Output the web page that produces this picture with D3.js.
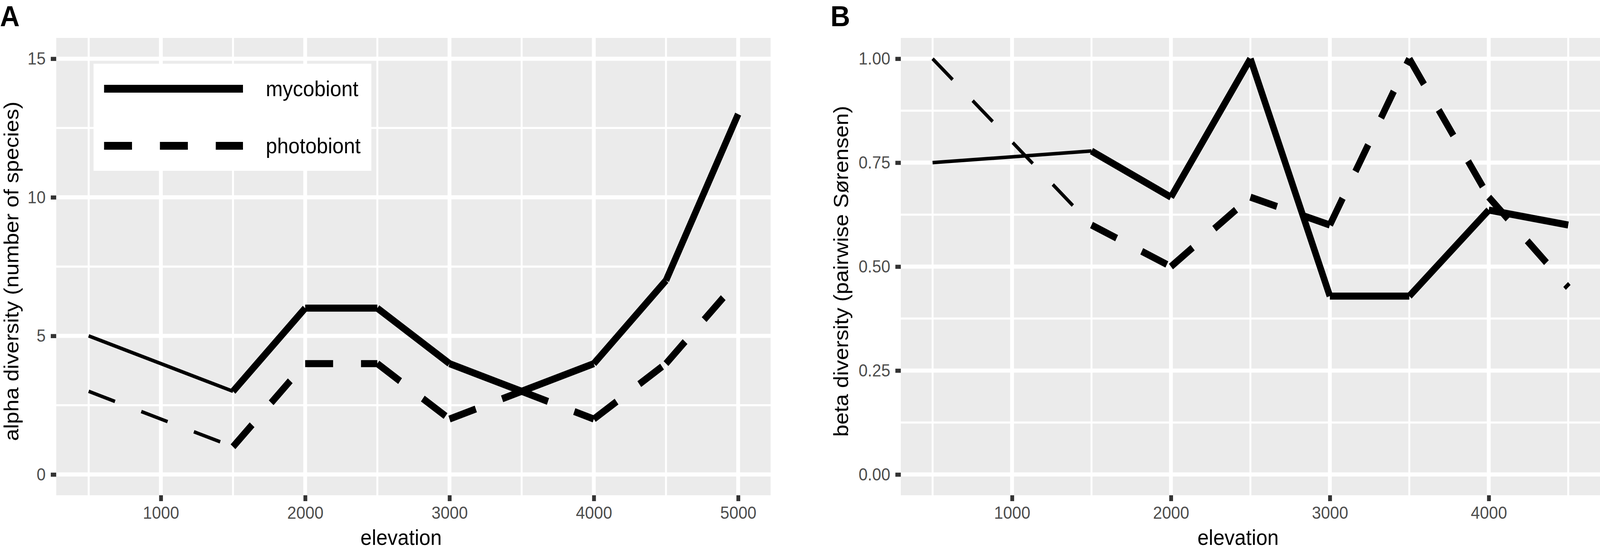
<!DOCTYPE html>
<html lang="en">
<head>
  <meta charset="UTF-8" />
  <title>Alpha and beta diversity along elevation</title>
  <style>
    html, body { margin: 0; padding: 0; background: #fff; overflow: hidden; }
    svg { display: block; width: 100vw; height: 100vh; font-family: 'Liberation Sans', Arial, Helvetica, sans-serif; }
    .axis text { fill: #4d4d4d; font-size: 45px; }
    .axis line { stroke: #333; stroke-width: 10.5; }
    .axis path { display: none; }
    .axis-title { font-size: 56px; fill: #000; }
    .panel-tag { font-size: 75px; font-weight: bold; fill: #000; }
    .legend-text { font-size: 56px; fill: #000; }
  </style>
</head>
<body>
  <svg id="chart" viewBox="0 0 4412 1407" preserveAspectRatio="none"></svg>

  <script src="https://d3js.org/d3.v7.min.js"></script>
  <script>
    // ---- data ----
    const elevationA = [500, 1500, 2000, 2500, 3000, 3500, 4000, 4500, 5000];
    const alphaMycobiont = [5, 3, 6, 6, 4, 3, 4, 7, 13];
    const alphaPhotobiont = [3, 1, 4, 4, 2, 3, 2, 4, 7];

    const elevationB = [500, 1500, 2000, 2500, 3000, 3500, 4000, 4500];
    const betaMycobiont = [0.75, 0.778, 0.667, 1.0, 0.429, 0.429, 0.636, 0.60];
    const betaPhotobiont = [1.0, 0.60, 0.50, 0.667, 0.60, 1.0, 0.667, 0.45];

    const seriesNames = ["mycobiont", "photobiont"];

    const xTicksA = [1000, 2000, 3000, 4000, 5000];
    const yTicksA = [0, 5, 10, 15];
    const xTicksB = [1000, 2000, 3000, 4000];
    const yTicksB = [0, 0.25, 0.5, 0.75, 1.0];

    // ---- layout ----
    const svg = d3.select("#chart");
    const panelTop = 97, panelBottom = 1267;
    const dash = "77 77";
    const segWidth = i => (i === 0 ? 9 : 18);   // first segment drawn thin, as in the figure

    // midpoints between major breaks, like ggplot minor grid
    function minorBreaks(major, domain) {
      const step = major[1] - major[0];
      const out = [];
      for (let v = major[0] - step / 2; v <= domain[1]; v += step) {
        if (v >= domain[0]) out.push(v);
      }
      return out;
    }

    function drawPanel(cfg) {
      const x = d3.scaleLinear().domain(cfg.xDomain).range([cfg.left, cfg.right]);
      const y = d3.scaleLinear().domain(cfg.yDomain).range([panelBottom, panelTop]);
      const g = svg.append("g");

      // panel background
      g.append("rect")
        .attr("x", cfg.left).attr("y", panelTop)
        .attr("width", cfg.right - cfg.left).attr("height", panelBottom - panelTop)
        .attr("fill", "#ebebeb");

      // grid: minor then major
      const grid = g.append("g").attr("stroke", "#fff");
      grid.selectAll(".minor-x").data(minorBreaks(cfg.xTicks, cfg.xDomain)).join("line")
        .attr("x1", d => x(d)).attr("x2", d => x(d))
        .attr("y1", panelTop).attr("y2", panelBottom).attr("stroke-width", 5.3);
      grid.selectAll(".minor-y").data(minorBreaks(cfg.yTicks, cfg.yDomain)).join("line")
        .attr("y1", d => y(d)).attr("y2", d => y(d))
        .attr("x1", cfg.left).attr("x2", cfg.right).attr("stroke-width", 5.3);
      grid.selectAll(".major-x").data(cfg.xTicks).join("line")
        .attr("x1", d => x(d)).attr("x2", d => x(d))
        .attr("y1", panelTop).attr("y2", panelBottom).attr("stroke-width", 10.5);
      grid.selectAll(".major-y").data(cfg.yTicks).join("line")
        .attr("y1", d => y(d)).attr("y2", d => y(d))
        .attr("x1", cfg.left).attr("x2", cfg.right).attr("stroke-width", 10.5);

      // lines: each segment on its own, so the dash pattern restarts at every point
      cfg.series.forEach((vals, s) => {
        const pts = cfg.elev.map((e, i) => [x(e), y(vals[i])]);
        const segs = d3.pairs(pts);
        g.append("g").selectAll("path").data(segs).join("path")
          .attr("d", d => d3.line()(d))
          .attr("fill", "none")
          .attr("stroke", "#000")
          .attr("stroke-linecap", "butt")
          .attr("stroke-width", (d, i) => segWidth(i))
          .attr("stroke-dasharray", s === 1 ? dash : null);
      });

      // axes
      g.append("g").attr("class", "axis")
        .attr("transform", `translate(0,${panelBottom})`)
        .call(d3.axisBottom(x).tickValues(cfg.xTicks).tickSize(15).tickPadding(13).tickFormat(d3.format("d")));
      g.append("g").attr("class", "axis")
        .attr("transform", `translate(${cfg.left},0)`)
        .call(d3.axisLeft(y).tickValues(cfg.yTicks).tickSize(15).tickPadding(14).tickFormat(cfg.yFormat));

      // titles
      g.append("text").attr("class", "axis-title")
        .attr("x", (cfg.left + cfg.right) / 2 - 34).attr("y", 1394)
        .attr("text-anchor", "middle").text("elevation");
      g.append("text").attr("class", "axis-title")
        .attr("transform", `translate(${cfg.yTitleX},${(panelTop + panelBottom) / 2 + 12}) rotate(-90)`)
        .attr("text-anchor", "middle").text(cfg.yTitle);
      g.append("text").attr("class", "panel-tag")
        .attr("x", cfg.tagX).attr("y", 67).text(cfg.tag);

      return { x, y, g };
    }

    drawPanel({
      tag: "A", tagX: 0,
      left: 155, right: 2125,
      xDomain: [275, 5225], yDomain: [-0.75, 15.75],
      xTicks: xTicksA, yTicks: yTicksA,
      yFormat: d3.format("d"),
      elev: elevationA,
      series: [alphaMycobiont, alphaPhotobiont],
      yTitle: "alpha diversity (number of species)", yTitleX: 51
    });

    drawPanel({
      tag: "B", tagX: 2290,
      left: 2484, right: 4412,
      xDomain: [300, 4700], yDomain: [-0.05, 1.05],
      xTicks: xTicksB, yTicks: yTicksB,
      yFormat: d3.format(".2f"),
      elev: elevationB,
      series: [betaMycobiont, betaPhotobiont],
      yTitle: "beta diversity (pairwise Sørensen)", yTitleX: 2338
    });

    // legend (panel A)
    const legend = svg.append("g");
    legend.append("rect")
      .attr("x", 258).attr("y", 163).attr("width", 766).attr("height", 274)
      .attr("fill", "#fff");
    const keyY = d3.scalePoint().domain(seriesNames).range([227, 373]);
    const keys = legend.selectAll(".key").data(seriesNames).join("g");
    keys.append("line")
      .attr("x1", 287).attr("x2", 670)
      .attr("y1", d => keyY(d)).attr("y2", d => keyY(d))
      .attr("stroke", "#000").attr("stroke-width", 20)
      .attr("stroke-dasharray", (d, i) => i === 1 ? dash : null);
    keys.append("text").attr("class", "legend-text")
      .attr("x", 733).attr("y", d => keyY(d) + 19)
      .text(d => d);
  </script>
</body>
</html>
